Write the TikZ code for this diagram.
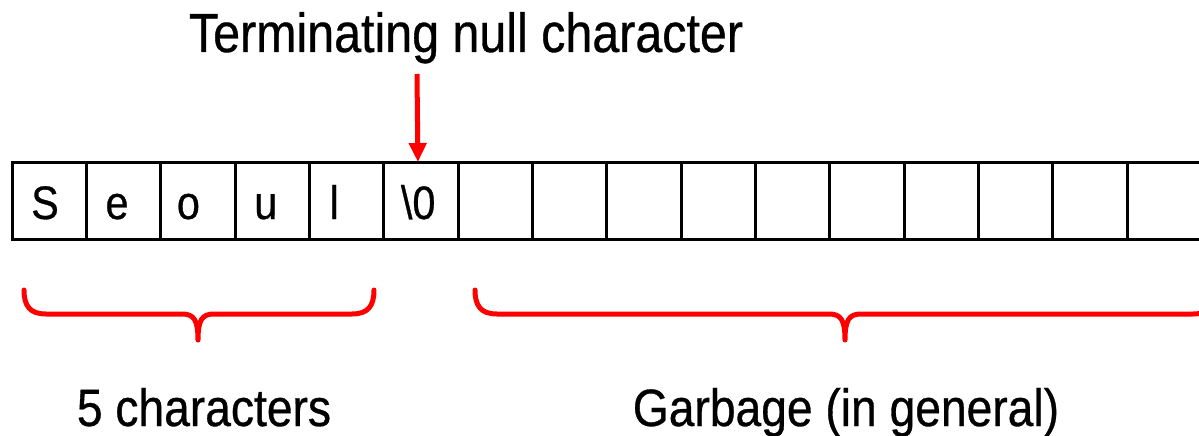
\documentclass[tikz,border=0pt]{standalone}
\usepackage{fontspec}
\setmainfont[FakeStretch=0.88,FakeBold=0.6]{Liberation Sans}
\usetikzlibrary{arrows.meta,calc}
\definecolor{bred}{RGB}{255,0,0}
\tikzset{
  cellbox/.style={draw=black,line width=3pt,minimum width=74.35pt,minimum height=77pt,inner sep=0pt,outer sep=0pt},
  celltxt/.style={anchor=base west,inner sep=0pt,font=\fontsize{47}{50}\selectfont},
  bigtxt/.style={anchor=base,inner sep=0pt,font=\fontsize{52.5}{56}\selectfont},
  headtxt/.style={anchor=base,inner sep=0pt,font=\fontsize{55}{58}\selectfont},
  redarrow/.style={draw=bred,line width=5pt,-{Triangle[width=17pt,length=19pt]}},
  bracepath/.style={draw=bred,line width=5pt,line cap=round,line join=round}
}
\begin{document}
\begin{tikzpicture}[x=1pt,y=-1pt]
\useasboundingbox (0,0) rectangle (1199,436);
\fill[white] (0,0) rectangle (1199,436);
\clip (0,0) rectangle (1199,436);
% cells
\foreach \i in {0,...,15}{
  \node[cellbox] (c\i) at ({12+74.35/2+74.35*\i},200.5) {};
}
% cell letters
\node[celltxt] (t0) at ($(c0.west)+(19,18.5)$) {S};
\node[celltxt] (t1) at ($(c1.west)+(19,18.5)$) {e};
\node[celltxt] (t2) at ($(c2.west)+(16,18.5)$) {o};
\node[celltxt] (t3) at ($(c3.west)+(19,18.5)$) {u};
\node[celltxt] (t4) at ($(c4.west)+(20,18.5)$) {l};
\node[celltxt] (t5) at ($(c5.west)+(17,18.5)$) {\textbackslash 0};
% heading and arrow
\node[headtxt] (head) at (466,52) {Terminating null character};
\coordinate (arrtop) at (417,74);
\draw[redarrow] (arrtop) -- ($(c5.north)+(-3,0)$);
% braces
\draw[bracepath] (24,290) .. controls (24,306) and (30,314) .. (46,314)
  -- (182,314) .. controls (194,314) and (198,320) .. (198,340)
  .. controls (198,320) and (202,314) .. (214,314)
  -- (352,314) .. controls (368,314) and (374,306) .. (374,290);
\draw[bracepath] (475,290) .. controls (475,306) and (481,314) .. (497,314)
  -- (829,314) .. controls (841,314) and (845,320) .. (845,340)
  .. controls (845,320) and (849,314) .. (861,314)
  -- (1193,314) .. controls (1209,314) and (1215,306) .. (1215,290);
% bottom labels
\node[bigtxt] (lab1) at (204,426) {5 characters};
\node[bigtxt] (lab2) at (846,426) {Garbage (in general)};
\end{tikzpicture}
\end{document}
